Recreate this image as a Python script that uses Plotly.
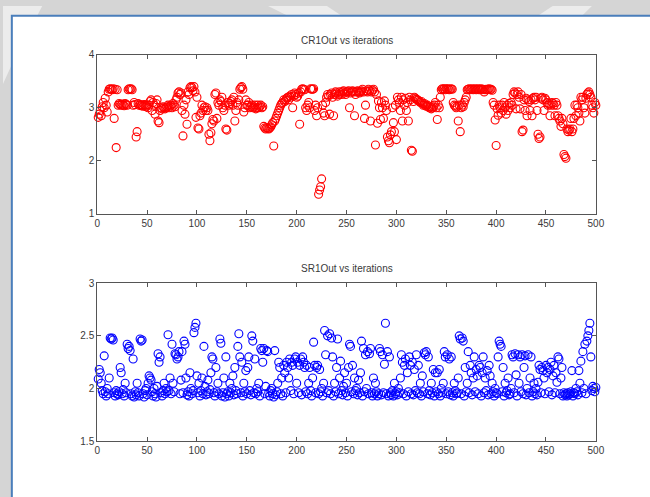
import plotly.graph_objects as go

iterations = list(range(1, 501))

cr1_out = [
    2.82, 2.88, 2.95, 2.85, 3.02, 3.10, 3.00, 3.18, 3.05, 2.92,
    3.30, 3.35, 3.36, 3.35, 3.34, 3.36, 2.80, 3.35, 2.25, 3.34,
    3.05, 3.08, 3.06, 3.05, 3.07, 3.05, 3.04, 3.08, 3.06, 3.05,
    3.34, 3.36, 3.35, 3.36, 3.34, 3.05, 3.10, 3.06, 2.45, 2.55,
    3.08, 3.05, 3.06, 3.04, 3.05, 3.03, 3.06, 3.05, 3.02, 3.05,
    3.00, 3.05, 3.12, 3.15, 2.95, 3.10, 3.05, 2.88, 3.08, 3.15,
    2.75, 2.72, 2.95, 3.00, 2.98, 3.02, 3.00, 2.98, 3.00, 3.02,
    3.05, 3.00, 3.03, 3.05, 3.00, 3.08, 3.05, 3.02, 3.15, 3.20,
    3.28, 3.30, 3.25, 3.28, 2.95, 2.47, 3.05, 2.88, 3.15, 2.69,
    3.30, 3.25, 3.38, 3.40, 3.38, 3.32, 3.40, 3.30, 2.82, 3.20,
    2.62, 2.60, 2.85, 2.90, 3.05, 2.95, 3.00, 3.02, 2.95, 3.00,
    2.95, 2.50, 2.38, 2.53, 2.70, 2.78, 2.75, 3.25, 3.28, 2.80,
    3.10, 3.05, 3.15, 3.12, 3.20, 3.00, 2.95, 3.05, 2.60, 2.58,
    3.10, 3.05, 3.08, 3.12, 3.15, 3.05, 3.20, 2.75, 2.95, 3.10,
    3.05, 3.15, 3.35, 3.38, 3.40, 3.35, 2.92, 3.00, 3.15, 3.05,
    3.05, 3.10, 3.00, 3.02, 3.05, 3.00, 3.02, 3.05, 2.98, 3.00,
    3.05, 3.00, 3.02, 3.05, 3.00, 3.02, 2.65, 2.62, 2.60, 2.63,
    2.61, 2.60, 2.62, 2.64, 2.68, 2.72, 2.28, 2.75, 2.80, 2.85,
    2.90, 2.95, 3.00, 3.05, 3.08, 3.10, 3.15, 3.12, 3.15, 3.18,
    3.20, 3.15, 3.22, 3.20, 3.25, 3.00, 3.22, 3.28, 3.25, 3.20,
    3.22, 3.28, 2.69, 3.30, 3.35, 3.36, 3.35, 3.34, 3.00, 2.95,
    3.05, 3.10, 3.00, 3.36, 3.35, 3.35, 3.36, 2.95, 3.05, 2.85,
    3.00, 1.37, 1.45, 1.51, 1.66, 3.05, 2.90, 2.85, 3.10, 3.20,
    3.25, 3.22, 2.88, 3.25, 3.28, 3.20, 2.85, 3.25, 3.30, 3.28,
    3.22, 3.25, 3.30, 3.28, 3.25, 3.30, 3.32, 3.28, 3.25, 3.30,
    3.30, 3.32, 3.00, 3.28, 3.30, 3.32, 3.30, 2.85, 3.25, 3.30,
    3.32, 3.30, 3.28, 3.30, 3.32, 3.35, 3.30, 2.80, 3.05, 3.32,
    3.30, 3.35, 3.32, 2.75, 3.30, 3.33, 3.35, 3.30, 2.30, 3.25,
    2.71, 3.13, 3.00, 2.78, 3.10, 3.00, 2.80, 3.13, 3.05, 2.95,
    2.45, 2.38, 2.34, 2.49, 2.55, 3.00, 2.72, 2.55, 3.05, 2.40,
    3.20, 3.15, 3.10, 2.95, 3.20, 2.75, 3.15, 3.05, 3.18, 2.95,
    3.10, 2.75, 3.20, 3.15, 2.20, 2.18, 3.12, 3.20, 3.18, 3.16,
    3.15, 3.14, 3.12, 3.10, 3.12, 3.08, 3.05, 3.08, 3.05, 3.03,
    3.05, 3.02, 3.00, 3.02, 2.98, 3.00, 3.02, 3.05, 3.10, 3.00,
    2.78, 3.05, 3.00, 3.20, 3.34, 3.36, 3.35, 3.36, 3.34, 3.36,
    3.35, 3.36, 3.34, 3.35, 3.36, 3.35, 3.10, 3.05, 3.03, 3.00,
    3.03, 2.75, 3.05, 2.55, 3.00, 3.05, 3.02, 3.10, 3.15, 3.20,
    3.34, 3.35, 3.36, 3.34, 3.35, 3.36, 3.34, 3.35, 3.36, 3.34,
    3.35, 3.36, 3.34, 3.35, 3.36, 3.34, 3.35, 3.30, 3.34, 3.35,
    3.34, 3.35, 3.36, 3.34, 3.35, 3.33, 3.10, 3.05, 2.77, 2.29,
    2.98, 2.86, 3.05, 3.00, 2.90, 3.05, 2.95, 3.10, 3.00, 2.88,
    3.05, 2.95, 3.08, 3.00, 3.10, 3.05, 3.25, 3.30, 3.28, 2.98,
    3.25, 3.30, 3.20, 2.98, 3.25, 2.55, 2.58, 3.15, 2.95, 3.18,
    2.85, 3.15, 3.12, 2.95, 3.15, 2.85, 3.18, 3.20, 3.15, 3.20,
    2.95, 2.50, 2.42, 2.45, 3.18, 3.20, 3.15, 2.95, 3.18, 3.15,
    3.10, 3.05, 3.08, 2.85, 3.05, 3.10, 3.08, 3.05, 2.85, 3.10,
    3.05, 2.85, 2.80, 2.75, 2.65, 2.80, 2.70, 2.12, 2.08, 2.05,
    2.60, 2.55, 2.58, 2.60, 2.80, 2.55, 2.60, 2.80, 3.05, 2.85,
    3.05, 3.00, 2.90, 2.75, 3.20, 3.15, 3.20, 3.00, 2.90, 3.18,
    3.25, 3.28, 3.30, 3.25, 3.20, 3.05, 3.00, 2.90, 3.10, 3.05,
]

sr1_out = [
    2.09, 2.18, 2.15, 2.05, 1.98, 1.95, 2.31, 1.97, 1.93, 2.00,
    1.95, 2.10, 2.48, 2.47, 2.48, 2.46, 1.96, 1.93, 1.98, 1.95,
    1.94, 1.97, 2.20, 2.15, 1.95, 1.99, 1.93, 2.05, 1.96, 2.42,
    2.38, 2.40, 2.36, 1.95, 1.93, 2.28, 1.92, 1.97, 1.94, 2.05,
    1.96, 1.93, 2.47, 2.45, 2.46, 1.95, 1.92, 1.98, 2.00, 1.94,
    2.05, 2.12, 2.10, 2.08, 1.97, 1.93, 2.00, 1.95, 1.92, 2.02,
    2.33, 2.25, 2.30, 1.96, 1.93, 1.98, 2.05, 1.95, 2.00, 1.97,
    2.51, 1.98, 2.10, 1.95, 2.42, 2.05, 1.97, 2.33, 2.32, 2.28,
    2.30, 2.35, 1.95, 2.08, 2.35, 1.96, 2.45, 2.42, 2.10, 1.94,
    1.97, 1.93, 2.15, 2.00, 1.95, 1.98, 2.53, 2.58, 2.62, 2.12,
    1.96, 2.05, 1.93, 1.98, 2.10, 1.95, 2.40, 2.02, 1.94, 1.97,
    2.08, 1.95, 1.99, 2.15, 2.30, 2.28, 1.96, 1.93, 2.20, 1.97,
    2.05, 1.95, 2.47, 2.43, 1.93, 1.96, 2.10, 1.92, 2.30, 1.95,
    1.97, 1.93, 2.05, 1.96, 2.00, 2.12, 1.94, 2.20, 1.98, 1.95,
    2.40, 2.52, 2.30, 1.96, 2.25, 1.93, 2.05, 1.97, 2.17, 1.95,
    2.20, 2.30, 1.98, 1.94, 2.50, 2.45, 1.96, 2.28, 1.95, 2.00,
    1.97, 2.05, 1.93, 2.38, 2.36, 2.25, 2.38, 1.95, 2.02, 2.36,
    2.35, 1.96, 1.93, 1.98, 2.00, 1.95, 1.92, 2.36, 1.94, 1.97,
    2.05, 2.25, 2.20, 1.95, 2.10, 1.93, 2.22, 2.15, 1.96, 2.25,
    2.20, 2.10, 2.28, 1.98, 2.25, 2.22, 1.95, 2.28, 2.30, 2.05,
    2.25, 1.96, 2.22, 2.28, 1.94, 2.30, 2.25, 2.20, 1.97, 2.22,
    1.95, 2.05, 2.20, 1.98, 1.93, 2.10, 2.44, 2.22, 1.96, 2.20,
    2.22, 1.95, 2.18, 1.97, 2.00, 1.93, 2.05, 2.55, 2.32, 1.96,
    2.50, 1.98, 2.52, 1.95, 2.48, 2.30, 1.93, 2.05, 1.97, 2.20,
    2.47, 1.95, 2.10, 2.26, 1.98, 1.94, 2.02, 2.15, 1.96, 2.05,
    1.93, 2.20, 2.42, 2.40, 1.97, 2.22, 1.95, 2.10, 1.98, 2.00,
    1.94, 2.08, 1.96, 2.15, 2.45, 1.93, 2.38, 1.97, 2.32, 2.00,
    2.35, 1.95, 2.33, 2.38, 1.96, 1.93, 2.10, 1.95, 2.05, 1.97,
    1.93, 1.95, 2.38, 2.35, 1.94, 2.32, 1.96, 2.23, 2.62, 1.95,
    2.35, 1.93, 2.30, 1.96, 1.94, 1.98, 1.93, 2.05, 1.95, 1.97,
    1.94, 2.00, 1.96, 2.10, 2.32, 2.25, 1.95, 2.22, 2.28, 1.93,
    2.15, 1.97, 2.30, 2.22, 1.95, 2.25, 1.94, 2.18, 1.98, 2.32,
    1.96, 2.22, 1.95, 2.05, 1.93, 2.12, 1.97, 2.34, 2.32, 2.35,
    1.95, 2.30, 1.98, 1.94, 2.05, 1.96, 2.18, 1.93, 2.15, 1.97,
    2.15, 1.95, 2.18, 1.93, 2.00, 1.96, 2.05, 2.35, 2.30, 1.95,
    2.32, 1.97, 2.28, 1.94, 2.30, 1.96, 1.93, 2.05, 1.98, 1.95,
    1.96, 2.10, 2.50, 2.47, 1.95, 2.48, 2.45, 1.93, 2.20, 1.97,
    2.05, 2.35, 1.96, 2.22, 2.15, 1.94, 2.10, 2.30, 1.97, 2.18,
    2.12, 1.95, 2.22, 2.20, 1.93, 2.15, 2.30, 1.96, 2.10, 1.98,
    2.17, 1.94, 2.22, 2.12, 1.95, 2.05, 1.97, 1.93, 2.00, 1.96,
    1.95, 2.30, 2.45, 2.42, 2.40, 1.97, 2.20, 1.93, 2.05, 1.96,
    1.98, 2.10, 1.94, 1.95, 2.00, 2.32, 2.30, 1.96, 2.33, 2.13,
    1.93, 2.32, 2.05, 2.30, 1.97, 2.32, 1.95, 2.20, 2.31, 1.94,
    2.00, 2.32, 1.96, 2.10, 2.30, 1.93, 1.97, 2.05, 1.95, 2.00,
    1.94, 2.06, 2.22, 2.18, 1.96, 2.20, 2.17, 2.10, 1.95, 2.22,
    2.15, 2.20, 1.97, 2.18, 2.25, 1.94, 2.12, 2.22, 1.96, 2.15,
    2.06, 2.30, 2.28, 1.95, 2.10, 2.20, 1.93, 1.96, 1.94, 1.95,
    1.93, 1.96, 1.94, 1.95, 1.97, 2.17, 1.93, 1.96, 1.95, 2.00,
    1.97, 1.94, 2.17, 2.05, 2.26, 1.96, 2.35, 2.00, 2.42, 1.95,
    2.45, 2.50, 2.55, 2.62, 2.30, 1.98, 2.02, 2.00, 1.97, 2.01,
]

x_ticks = [0, 50, 100, 150, 200, 250, 300, 350, 400, 450, 500]
cr1_ticks = [1, 2, 3, 4]
sr1_ticks = [1.5, 2, 2.5, 3]
sr1_ticktext = ["1.5", "2", "2.5", "3"]

W, H = 650, 497
fig = go.Figure()

fig.add_trace(go.Scatter(
    x=iterations, y=cr1_out, mode="markers", xaxis="x", yaxis="y",
    marker=dict(symbol="circle-open", size=8, color="#ff0000", line=dict(width=1.1)),
    cliponaxis=False, showlegend=False))
fig.add_trace(go.Scatter(
    x=iterations, y=sr1_out, mode="markers", xaxis="x2", yaxis="y2",
    marker=dict(symbol="circle-open", size=8, color="#0000ff", line=dict(width=1.1)),
    cliponaxis=False, showlegend=False))


def px_x(p):
    return p / W


def px_y(p):
    return 1 - p / H


axis_common = dict(
    showgrid=False, zeroline=False, showline=True, linecolor="#555555", linewidth=1,
    mirror="ticks", ticks="inside", ticklen=4, tickcolor="#555555",
    tickfont=dict(family="Liberation Sans, Arial, sans-serif", size=10, color="#3a3a3a"),
)

fig.update_layout(
    width=W, height=H,
    margin=dict(l=0, r=0, t=0, b=0),
    paper_bgcolor="#d5d5d5",
    plot_bgcolor="white",
    xaxis=dict(domain=[px_x(96), px_x(604)], range=[0, 500], tickvals=x_ticks,
               anchor="y", **axis_common),
    yaxis=dict(domain=[px_y(213), px_y(50)], range=[1, 4], tickvals=cr1_ticks,
               anchor="x", **axis_common),
    xaxis2=dict(domain=[px_x(96), px_x(604)], range=[0, 500], tickvals=x_ticks,
                anchor="y2", **axis_common),
    yaxis2=dict(domain=[px_y(446), px_y(284)], range=[1.5, 3], tickvals=sr1_ticks,
                ticktext=sr1_ticktext, anchor="x2", **axis_common),
    shapes=[
        dict(type="path", xref="paper", yref="paper", layer="below",
             path=f"M 0 {px_y(0)} L {px_x(40)} {px_y(0)} L {px_x(9)} {px_y(60)} L 0 {px_y(80)} Z",
             fillcolor="#ececec", line=dict(width=0)),
        dict(type="path", xref="paper", yref="paper", layer="below",
             path=f"M {px_x(270)} {px_y(0)} L {px_x(330)} {px_y(0)} L {px_x(345)} {px_y(10)} L {px_x(290)} {px_y(10)} Z",
             fillcolor="#ececec", line=dict(width=0)),
        dict(type="path", xref="paper", yref="paper", layer="below",
             path=f"M {px_x(560)} {px_y(0)} L {px_x(600)} {px_y(0)} L {px_x(590)} {px_y(10)} L {px_x(545)} {px_y(10)} Z",
             fillcolor="#ececec", line=dict(width=0)),
        dict(type="rect", xref="paper", yref="paper", layer="below",
             x0=px_x(9), x1=1.1, y0=-0.1, y1=px_y(10),
             fillcolor="white", line=dict(color="#4a7ebb", width=2)),
    ],
    annotations=[
        dict(text="CR1Out vs iterations", xref="paper", yref="paper",
             x=px_x(350), y=px_y(35), showarrow=False, xanchor="center", yanchor="middle",
             font=dict(family="Liberation Sans, Arial, sans-serif", size=10, color="#3a3a3a")),
        dict(text="SR1Out vs iterations", xref="paper", yref="paper",
             x=px_x(350), y=px_y(269), showarrow=False, xanchor="center", yanchor="middle",
             font=dict(family="Liberation Sans, Arial, sans-serif", size=10, color="#3a3a3a")),
    ],
)

fig.write_html(
    "out.html",
    config={"displayModeBar": False},
    post_script="document.body.style.margin='0';document.body.style.overflow='hidden';",
)
